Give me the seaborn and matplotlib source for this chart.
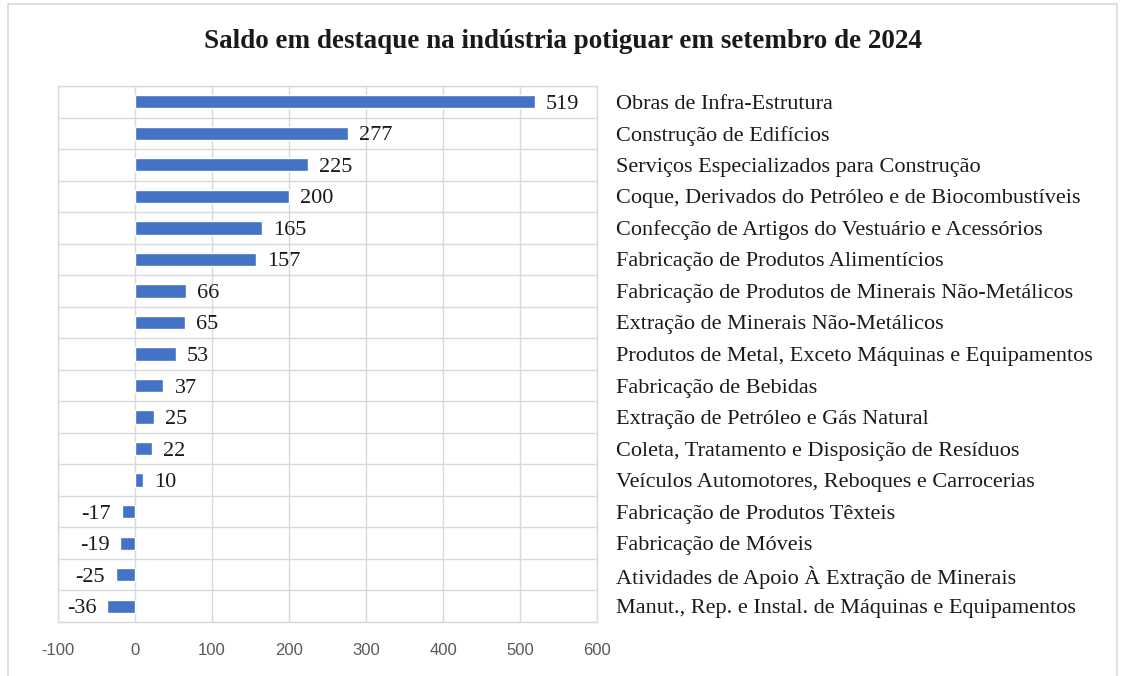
import matplotlib
matplotlib.use('Agg')
import matplotlib.pyplot as plt
from matplotlib.patches import Rectangle
import seaborn as sns
import pandas as pd
import numpy as np

# data
setores = [
    'Obras de Infra-Estrutura',
    'Construção de Edifícios',
    'Serviços Especializados para Construção',
    'Coque, Derivados do Petróleo e de Biocombustíveis',
    'Confecção de Artigos do Vestuário e Acessórios',
    'Fabricação de Produtos Alimentícios',
    'Fabricação de Produtos de Minerais Não-Metálicos',
    'Extração de Minerais Não-Metálicos',
    'Produtos de Metal, Exceto Máquinas e Equipamentos',
    'Fabricação de Bebidas',
    'Extração de Petróleo e Gás Natural',
    'Coleta, Tratamento e Disposição de Resíduos',
    'Veículos Automotores, Reboques e Carrocerias',
    'Fabricação de Produtos Têxteis',
    'Fabricação de Móveis',
    'Atividades de Apoio À Extração de Minerais',
    'Manut., Rep. e Instal. de Máquinas e Equipamentos',
]
saldo = [519, 277, 225, 200, 165, 157, 66, 65, 53, 37, 25, 22, 10, -17, -19, -25, -36]
x_ticks = [-100, 0, 100, 200, 300, 400, 500, 600]

df = pd.DataFrame({'setor': setores, 'saldo': saldo})

sns.set_style('white')
plt.rcParams['font.family'] = ['Liberation Serif', 'DejaVu Serif']

grid_col = '#D9D9D9'

fig = plt.figure(figsize=(11.21, 6.76), dpi=100)
ax = fig.add_axes([58/1121, 1 - 622/676, (597-58)/1121, (622-86)/676])

sns.barplot(data=df, x='saldo', y='setor', orient='h', color='#4472C4',
            width=0.42, ax=ax, saturation=1)

labels = ax.bar_label(ax.containers[0], fmt='%d', padding=8, fontsize=16, color='#1a1a1a')
for t in labels:
    t.set_va('center_baseline')

ax.set_xlim(-100, 600)
ax.set_xticks(x_ticks)
ax.set_xticklabels([str(v) for v in x_ticks], family='Liberation Sans',
                   fontsize=12, color='#595959')
ax.set_xlabel('')
ax.set_ylabel('')

ax.yaxis.tick_right()
ax.set_yticks(np.arange(len(setores)))
ax.set_yticklabels(setores, fontsize=16, color='#1a1a1a')
ax.set_yticks(np.arange(-0.5, len(setores), 1), minor=True)
ax.set_ylim(len(setores) - 0.5, -0.5)

ax.tick_params(axis='x', length=0, pad=15)
ax.tick_params(axis='y', which='both', length=0, pad=14)
for tk in ax.yaxis.get_major_ticks():
    tk.label2.set_va('center_baseline')

ax.grid(axis='x', color=grid_col, linewidth=1)
ax.grid(axis='y', which='minor', color=grid_col, linewidth=1)
ax.grid(axis='y', which='major', visible=False)
ax.set_axisbelow(True)
for s in ax.spines.values():
    s.set_color(grid_col)
    s.set_linewidth(1)

fig.text(0.502, 1 - 42/676, 'Saldo em destaque na indústria potiguar em setembro de 2024',
         ha='center', va='center', fontsize=19.5, fontweight='bold', color='#1a1a1a')

# outer chart border
fig.patches.append(Rectangle((8/1121, -0.05), (1117-8)/1121, 1.05 - 4/676,
                             transform=fig.transFigure, fill=False,
                             edgecolor=grid_col, linewidth=1.2))

fig.savefig('out.png', dpi=100)
